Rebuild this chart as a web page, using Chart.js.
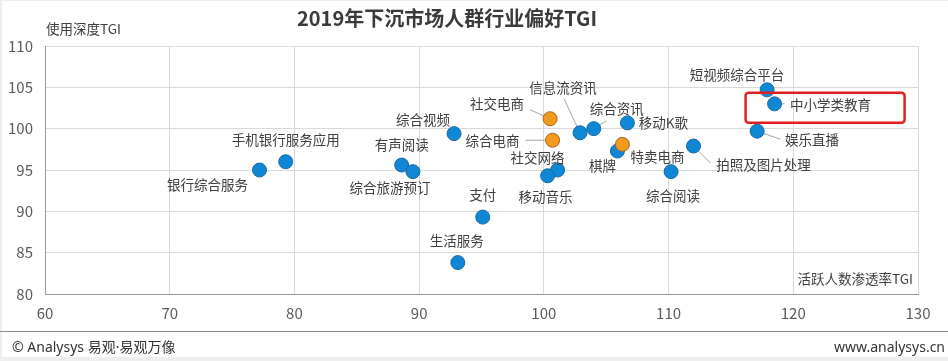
<!DOCTYPE html>
<html>
<head>
<meta charset="utf-8">
<script src="https://cdn.jsdelivr.net/npm/chart.js@4.4.1/dist/chart.umd.min.js"></script>
<style>
  html, body { margin: 0; padding: 0; background: #fff; }
  #wrap { width: 948px; height: 361px; position: relative; }
</style>
</head>
<body>
<div id="wrap"><canvas id="tgiChart" width="948" height="361"></canvas></div>
<script>
// industries, x = 活跃人数渗透率TGI, y = 使用深度TGI
var names = ["银行综合服务", "手机银行服务应用", "有声阅读", "综合旅游预订", "综合视频", "生活服务", "支付",
             "社交网络", "移动音乐", "信息流资讯", "综合资讯", "移动K歌", "棋牌", "综合阅读",
             "拍照及图片处理", "娱乐直播", "短视频综合平台", "中小学类教育",
             "社交电商", "综合电商", "特卖电商"];
var xVals = [77.2, 79.3, 88.6, 89.5, 92.8, 93.1, 95.1,
             101.1, 100.3, 102.9, 104.0, 106.7, 105.9, 110.2,
             112.0, 117.1, 117.9, 118.5,
             100.5, 100.7, 106.3];
var yVals = [95.0, 96.0, 95.6, 94.8, 99.4, 83.8, 89.3,
             95.0, 94.3, 99.5, 100.0, 100.7, 97.3, 94.8,
             97.9, 99.7, 104.7, 103.0,
             101.2, 98.6, 98.1];
// e-commerce industries are drawn in orange
var ecommerce = ["社交电商", "综合电商", "特卖电商"];
var highlightName = "中小学类教育";

var xTicks = [60, 70, 80, 90, 100, 110, 120, 130];
var yTicks = [80, 85, 90, 95, 100, 105, 110];

// label placement (pixels from the point): text centre, optional leader end
var labelPos = {
  "银行综合服务": [-52, 15], "手机银行服务应用": [0, -22], "有声阅读": [0, -20],
  "综合旅游预订": [-23, 16], "综合视频": [-31, -14], "生活服务": [-1, -22], "支付": [0, -22],
  "社交电商": [-53, -15, -20, -9], "综合电商": [-60, 1, -27, 0], "移动音乐": [-2, 21],
  "社交网络": [-20, -12], "信息流资讯": [-17, -45, -16, -34], "综合资讯": [23, -20, 13, -8],
  "移动K歌": [36, 0], "棋牌": [-15, 15], "特卖电商": [35, 13], "综合阅读": [2, 24],
  "拍照及图片处理": [70, 19, 17, 17], "娱乐直播": [55, 9, 23, 8],
  "中小学类教育": [56, 1, 10, 0], "短视频综合平台": [-30, -15]
};

var FONT = "'Noto Sans CJK SC', 'Noto Sans', sans-serif";
var FOOT_FONT = "'Noto Sans', 'Noto Sans CJK SC', sans-serif";

var bluePts = [], orangePts = [];
for (var i = 0; i < names.length; i++) {
  var p = { x: xVals[i], y: yVals[i], name: names[i] };
  if (ecommerce.indexOf(names[i]) >= 0) orangePts.push(p); else bluePts.push(p);
}

var decorPlugin = {
  id: 'decor',
  beforeDraw: function (chart) {
    var c = chart.ctx;
    c.save();
    c.fillStyle = '#fff';
    c.fillRect(0, 0, 948, 361);
    c.fillStyle = '#eeeeee';
    c.fillRect(0, 357, 948, 4);
    c.fillRect(0, 0, 948, 1);
    c.fillRect(0, 0, 2, 357);
    c.restore();
  },
  beforeDatasetsDraw: function (chart) {
    var c = chart.ctx;
    c.save();
    c.strokeStyle = '#a6a6a6';
    c.lineWidth = 1;
    chart.data.datasets.forEach(function (ds, di) {
      var meta = chart.getDatasetMeta(di);
      ds.data.forEach(function (pt, j) {
        var lp = labelPos[pt.name];
        if (!lp || lp.length < 4) return;
        var el = meta.data[j];
        c.beginPath();
        c.moveTo(el.x, el.y);
        c.lineTo(el.x + lp[2], el.y + lp[3]);
        c.stroke();
      });
    });
    c.restore();
  },
  afterDatasetsDraw: function (chart) {
    var c = chart.ctx;
    var area = chart.chartArea;
    c.save();
    c.fillStyle = '#404040';
    c.textAlign = 'center';
    c.textBaseline = 'middle';
    c.font = '13.5px ' + FONT;
    chart.data.datasets.forEach(function (ds, di) {
      var meta = chart.getDatasetMeta(di);
      ds.data.forEach(function (pt, j) {
        var lp = labelPos[pt.name] || [0, -18];
        var el = meta.data[j];
        c.fillText(pt.name, el.x + lp[0], el.y + lp[1]);
        if (pt.name === highlightName) {
          c.save();
          c.strokeStyle = '#e02020';
          c.lineWidth = 2.5;
          c.beginPath();
          c.roundRect(el.x - 29, el.y - 11, 159, 30, 3);
          c.stroke();
          c.restore();
        }
      });
    });

    // title
    c.fillStyle = '#3a3a3a';
    c.font = 'bold 20px ' + FONT;
    c.fillText('2019年下沉市场人群行业偏好TGI', 447, 18);

    // axis titles
    c.font = '13.5px ' + FONT;
    c.fillStyle = '#404040';
    c.textAlign = 'left';
    c.fillText('使用深度TGI', 46, 29);
    c.textAlign = 'right';
    c.fillText('活跃人数渗透率TGI', area.right - 5, 279);

    // footer
    c.strokeStyle = '#8c8c8c';
    c.lineWidth = 1;
    c.beginPath();
    c.moveTo(0, 331.5);
    c.lineTo(948, 331.5);
    c.stroke();
    c.font = '14px ' + FOOT_FONT;
    c.fillStyle = '#333';
    c.textAlign = 'left';
    c.fillText('© Analysys 易观·易观万像', 12, 348);
    c.textAlign = 'right';
    c.fillText('www.analysys.cn', 945, 348);
    c.restore();
  }
};

var ctx = document.getElementById('tgiChart').getContext('2d');
new Chart(ctx, {
  type: 'scatter',
  data: {
    datasets: [
      {
        label: '电商',
        data: orangePts,
        order: 0,
        pointRadius: 7,
        pointHoverRadius: 7,
        backgroundColor: '#f39a1e',
        borderColor: '#a8661c',
        borderWidth: 1
      },
      {
        label: '其他',
        data: bluePts,
        order: 1,
        pointRadius: 7,
        pointHoverRadius: 7,
        backgroundColor: '#0f87d5',
        borderColor: '#1b6aa0',
        borderWidth: 1
      }
    ]
  },
  options: {
    responsive: false,
    animation: false,
    devicePixelRatio: 1,
    layout: { padding: { left: 0, right: 30, top: 46, bottom: 37 } },
    plugins: {
      legend: { display: false },
      title: { display: false },
      tooltip: { enabled: false }
    },
    scales: {
      x: {
        type: 'linear',
        min: xTicks[0],
        max: xTicks[xTicks.length - 1],
        afterBuildTicks: function (s) { s.ticks = xTicks.map(function (v) { return { value: v }; }); },
        afterFit: function (s) { s.height = 30; },
        ticks: { color: '#595959', font: { family: FONT, size: 15 }, padding: 10 },
        grid: { color: '#d9d9d9', drawTicks: false },
        border: { color: '#999' }
      },
      y: {
        min: yTicks[0],
        max: yTicks[yTicks.length - 1],
        afterBuildTicks: function (s) { s.ticks = yTicks.map(function (v) { return { value: v }; }); },
        afterFit: function (s) { s.width = 45; },
        ticks: { color: '#595959', font: { family: FONT, size: 15 }, padding: 12 },
        grid: { color: '#d9d9d9', drawTicks: false },
        border: { color: '#999' }
      }
    }
  },
  plugins: [decorPlugin]
});
</script>
</body>
</html>
